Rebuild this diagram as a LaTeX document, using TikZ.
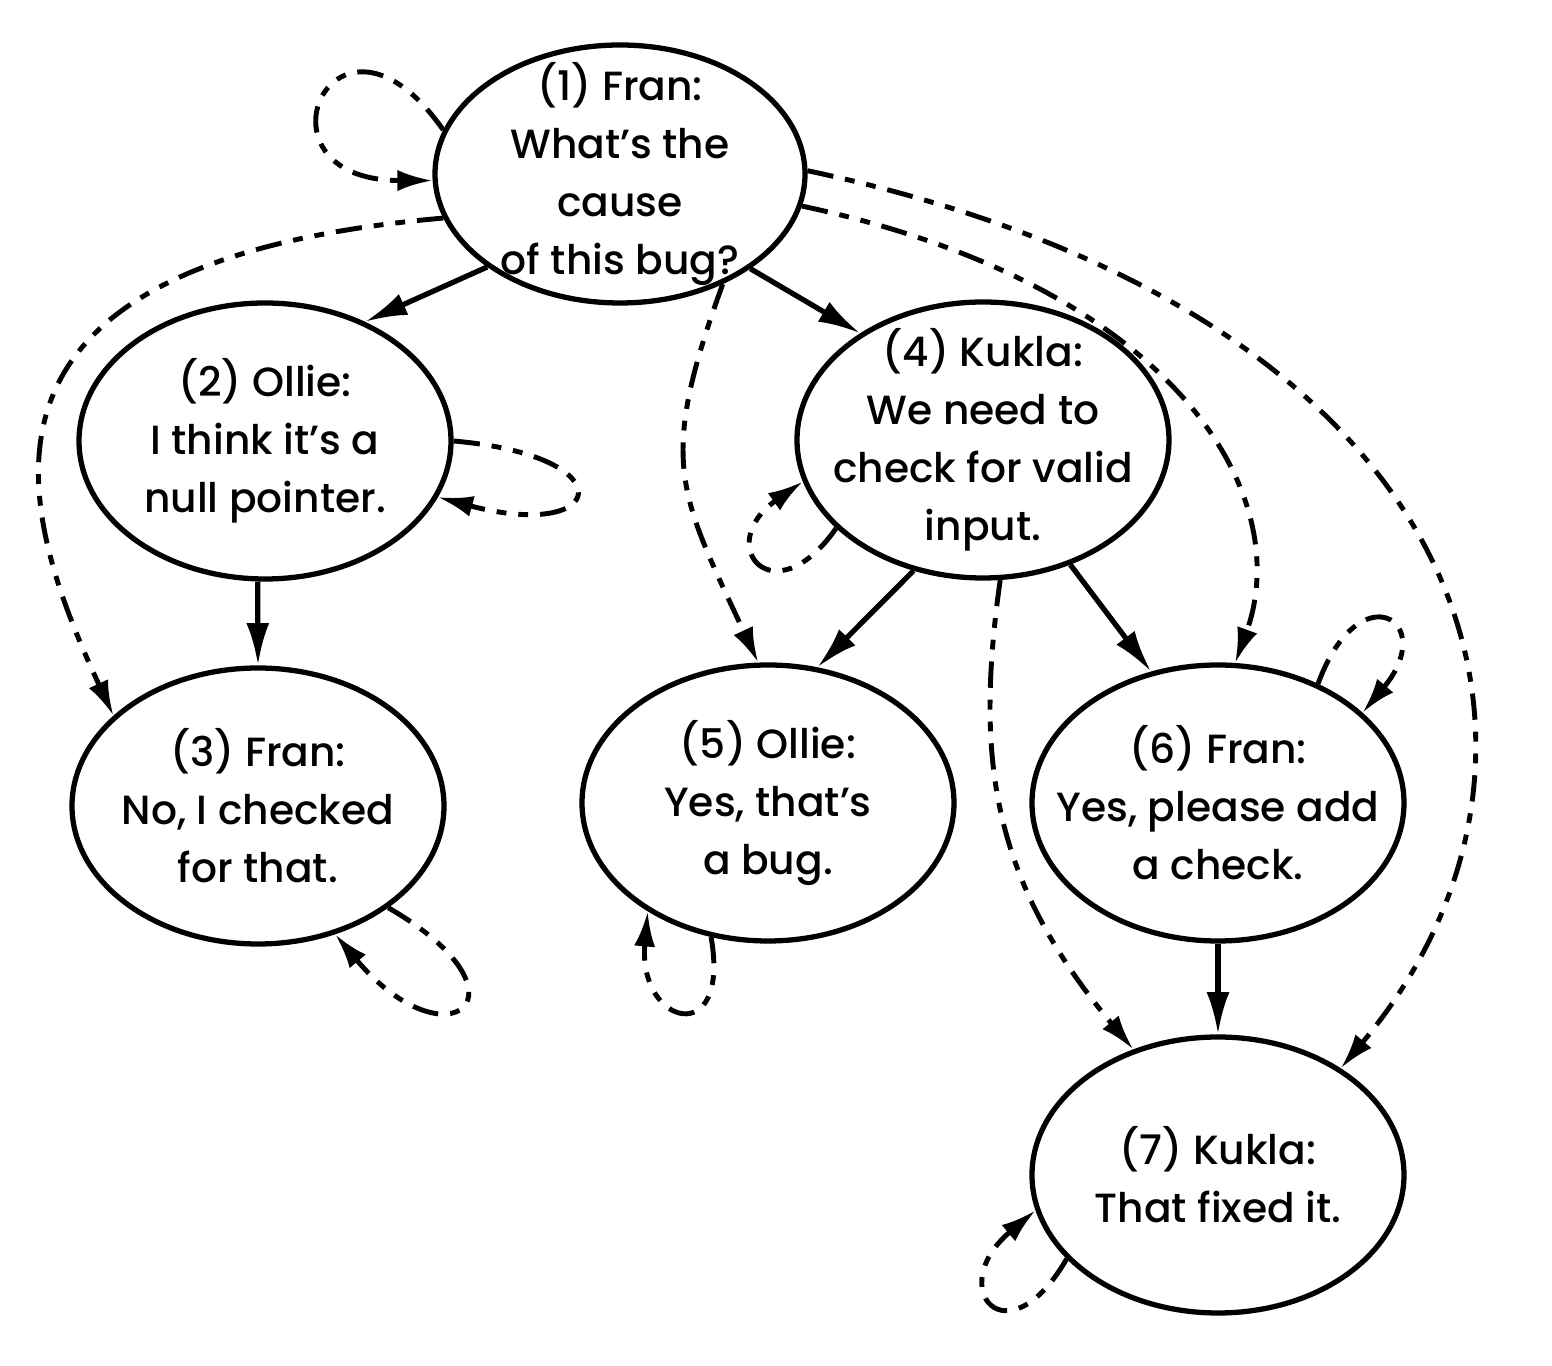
\documentclass[tikz,border=0pt]{standalone}
\usepackage{fontspec}
\setmainfont{Poppins}[UprightFont=* Medium]
\usepackage{tikz}
\usetikzlibrary{
  arrows.meta,
  shapes.geometric,
}

\begin{document}
\begin{tikzpicture}[
  font=\fontsize{11.6}{16.5}\selectfont,
  msg/.style={ellipse, draw, line width=1.5pt, minimum width=3.72cm,
    minimum height=2.76cm, inner sep=-3mm, align=center},
  reply/.style={line width=1.5pt, -{Latex[length=12pt, width=6.5pt]}},
  echo/.style={line width=1.4pt,
    dash pattern=on 7.5pt off 3.4pt on 2.8pt off 3.4pt on 2.8pt off 3.4pt,
    -{Latex[length=10pt, width=6pt]}},
]
  % Page: 1cm = 100px, y points down
  \useasboundingbox (0,0) rectangle (15.52,-13.66);

  % Messages
  \node[msg, minimum width=3.70cm, minimum height=2.58cm] (msg1) at (6.20,-1.74)
    {(1) Fran:\\What’s the\\cause\\of this bug?};
  \node[msg] (msg2) at (2.65,-4.41) {(2) Ollie:\\I think it’s a\\null pointer.};
  \node[msg] (msg3) at (2.58,-8.06) {(3) Fran:\\No, I checked\\for that.};
  \node[msg] (msg4) at (9.83,-4.40) {(4) Kukla:\\We need to\\check for valid\\input.};
  \node[msg] (msg5) at (7.68,-8.03) {(5) Ollie:\\Yes, that’s\\a bug.};
  \node[msg] (msg6) at (12.18,-8.03) {(6) Fran:\\Yes, please add\\a check.};
  \node[msg] (msg7) at (12.18,-11.75) {(7) Kukla:\\That fixed it.};

  % Direct replies
  \draw[reply] (msg1.215) -- (msg2.50);
  \draw[reply] (msg1.-36) -- (msg4.139);
  \draw[reply] (msg2.-93) -- (msg3.north);
  \draw[reply] (msg4.242) -- (msg5.70);
  \draw[reply] (msg4.-55) -- (msg6.117);
  \draw[reply] (msg6.south) -- (msg7.north);

  % Indirect links
  \draw[echo] (msg1.194) to[out=185, in=115, out distance=5.0cm, in distance=2.4cm] (msg3.148);
  \draw[echo] (msg1.-47) to[out=250, in=115, distance=1.9cm] (msg5.94);
  \draw[echo] (msg1.-10) to[out=-12, in=70, out distance=3.8cm, in distance=1.8cm] (msg6.83);
  \draw[echo] (msg1.1) to[out=-12, in=50, out distance=7cm, in distance=4cm] (msg7.41);
  \draw[echo] (msg4.-83) to[out=262, in=130, out distance=1.75cm, in distance=2.25cm] (msg7.124);

  % Self loops
  \draw[echo] (msg1.166) to[out=125, in=180, distance=1.9cm] (msg1.182);
  \draw[echo] (msg2.0) to[out=-5, in=-15, distance=1.75cm] (msg2.-18);
  \draw[echo] (msg3.-38) to[out=-30, in=-50, distance=1.75cm] (msg3.-59);
  \draw[echo] (msg4.211) to[out=235, in=215, distance=1.1cm] (msg4.193);
  \draw[echo] (msg5.247) to[out=280, in=265, distance=1.15cm] (msg5.222);
  \draw[echo] (msg6.50) to[out=70, in=50, distance=1.2cm] (msg6.32);
  \draw[echo] (msg7.209) to[out=240, in=220, distance=1.2cm] (msg7.191);
\end{tikzpicture}
\end{document}
